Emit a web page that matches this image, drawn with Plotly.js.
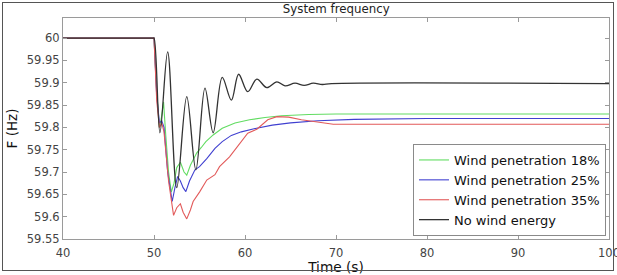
<!DOCTYPE html>
<html>
<head>
<meta charset="utf-8">
<script src="https://cdn.plot.ly/plotly-3.0.1.min.js"></script>
<style>
html,body{margin:0;padding:0;background:#fff;}
#wrap{position:relative;width:617px;height:275px;overflow:hidden;}
#chart{position:absolute;left:0;top:0;width:617px;height:275px;}
#frame{position:absolute;left:2px;top:2px;width:610px;height:267px;border:1.5px solid #555;pointer-events:none;}
</style>
</head>
<body>
<div id="wrap"><div id="chart"></div><div id="frame"></div></div>
<script>
// ---- data ----
const xTicks = [40, 50, 60, 70, 80, 90, 100];
const yTicks = [59.55, 59.6, 59.65, 59.7, 59.75, 59.8, 59.85, 59.9, 59.95, 60];
const yTickText = ['59.55','59.6','59.65','59.7','59.75','59.8','59.85','59.9','59.95','60'];

const seriesNames = ['Wind penetration 18%', 'Wind penetration 25%', 'Wind penetration 35%', 'No wind energy'];

const t18 = [40, 50, 50.3, 50.6, 50.8, 51.05, 51.3, 51.6, 51.9, 52.2, 52.5, 52.9, 53.3, 53.6, 54.0, 54.7, 55.2, 55.7, 56.5, 57.5, 58.9, 60.5, 62.2, 64, 67, 70, 100];
const f18 = [60, 60, 59.88, 59.80, 59.82, 59.857, 59.78, 59.70, 59.655, 59.675, 59.71, 59.722, 59.70, 59.693, 59.715, 59.743, 59.755, 59.768, 59.783, 59.798, 59.81, 59.817, 59.822, 59.826, 59.829, 59.83, 59.83];

const t25 = [40, 50, 50.3, 50.6, 50.85, 51.1, 51.5, 52.0, 52.3, 52.6, 52.9, 53.2, 53.5, 53.9, 54.5, 55.0, 55.8, 56.7, 57.5, 58.5, 59.6, 61, 63, 65, 68, 72, 80, 100];
const f25 = [60, 60, 59.87, 59.81, 59.815, 59.80, 59.70, 59.634, 59.665, 59.69, 59.68, 59.665, 59.656, 59.68, 59.705, 59.712, 59.73, 59.753, 59.768, 59.782, 59.79, 59.797, 59.805, 59.81, 59.815, 59.818, 59.82, 59.82];

const t35 = [40, 50, 50.3, 50.6, 50.85, 51.1, 51.6, 52.15, 52.5, 52.9, 53.2, 53.6, 54.0, 54.3, 55.0, 55.8, 56.7, 57.2, 58.3, 59.4, 60.3, 61.3, 62.5, 63.5, 64.8, 66.2, 67.7, 69.7, 100];
const f35 = [60, 60, 59.86, 59.80, 59.81, 59.79, 59.68, 59.603, 59.62, 59.629, 59.61, 59.595, 59.615, 59.634, 59.655, 59.682, 59.694, 59.712, 59.734, 59.764, 59.787, 59.796, 59.817, 59.824, 59.823, 59.817, 59.812, 59.807, 59.807];

const tNo = [40, 49.9, 50.0, 50.65, 51.5, 52.5, 53.6, 54.6, 55.6, 56.5, 57.5, 58.5, 59.3, 60.3, 61.3, 62.4, 63.5, 64.4, 65.5, 66.5, 67.5, 68.5, 69.5, 100];
const fNo = [60, 60, 60, 59.788, 59.969, 59.665, 59.869, 59.705, 59.888, 59.788, 59.912, 59.861, 59.919, 59.880, 59.908, 59.889, 59.902, 59.893, 59.899, 59.894, 59.899, 59.896, 59.898, 59.898];

const colors = ['#62dc62', '#4040d0', '#e25a5a', '#333333'];

const FONT = 'DejaVu Sans, Arial, sans-serif';

const traces = [
  {x: t18, y: f18, name: seriesNames[0], mode: 'lines', line: {color: colors[0], width: 1.1}},
  {x: t25, y: f25, name: seriesNames[1], mode: 'lines', line: {color: colors[1], width: 1.1}},
  {x: t35, y: f35, name: seriesNames[2], mode: 'lines', line: {color: colors[2], width: 1.1}},
  {x: tNo, y: fNo, name: seriesNames[3], mode: 'lines', line: {color: colors[3], width: 1.3, shape: 'spline', smoothing: 1}}
];

const axisCommon = {
  showgrid: false, zeroline: false,
  showline: true, linecolor: '#9a9a9a', linewidth: 1,
  mirror: 'ticks', ticks: 'inside', ticklen: 4, tickcolor: '#9a9a9a',
  tickfont: {family: FONT, size: 11.5, color: '#444'}
};

const layout = {
  width: 617, height: 275,
  margin: {l: 63, r: 8, t: 18, b: 36},
  paper_bgcolor: '#fff', plot_bgcolor: '#fff',
  showlegend: true,
  title: {text: 'System frequency', font: {family: FONT, size: 11.8, color: '#222'},
          x: 0.545, xanchor: 'center', y: 1 - 9/275, yanchor: 'middle'},
  xaxis: Object.assign({}, axisCommon, {
    range: [40, 100.0001], tickvals: xTicks,
    ticklabeloverflow: 'allow', ticklabelstandoff: 3,
    title: {text: 'Time (s)', font: {family: FONT, size: 13.7, color: '#111'}, standoff: 2}
  }),
  yaxis: Object.assign({}, axisCommon, {
    range: [59.55, 60.045], tickvals: yTicks, ticktext: yTickText,
    title: {text: 'F (Hz)', font: {family: FONT, size: 13.5, color: '#111'}, standoff: 6}
  }),
  legend: {
    x: 0.9945, y: 0.0136, xanchor: 'right', yanchor: 'bottom',
    bgcolor: '#fff', bordercolor: '#8a8a8a', borderwidth: 1,
    font: {family: FONT, size: 13, color: '#111'},
    tracegroupgap: 0
  }
};

Plotly.newPlot('chart', traces, layout, {displayModeBar: false, staticPlot: true});
</script>
</body>
</html>
